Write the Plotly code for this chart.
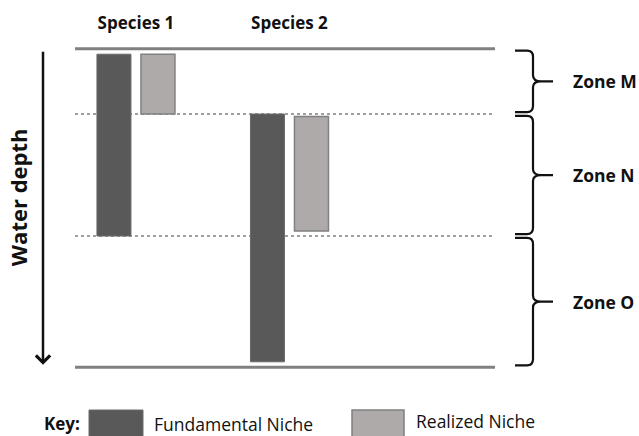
import plotly.graph_objects as go

# ---- data (depth units, 0 = surface, 10 = bottom) ----
species = ["Species 1", "Species 2"]
fundamental_top = [0.17, 2.05]
fundamental_bottom = [5.88, 9.83]
realized_top = [0.17, 2.13]
realized_bottom = [2.05, 5.72]
zone_names = ["Zone M", "Zone N", "Zone O"]
zone_bounds = [0.0, 2.05, 5.88, 10.0]

W, H = 639, 436
ML, MR, MT, MB = 75, 144, 44, 64
PW, PH = W - ML - MR, H - MT - MB


def px_x(p):
    return (p - ML) / PW


def px_y(p):
    return (H - MB - p) / PH


FONT = "Open Sans"
TXT = "#111111"
FUND = "#595959"
REAL = "#aeaaaa"

xs = list(range(len(species)))
fig = go.Figure()
fig.add_trace(go.Bar(
    x=xs, y=[b - t for t, b in zip(fundamental_top, fundamental_bottom)],
    base=fundamental_top, width=0.2215, offset=-0.254,
    marker=dict(color=FUND, line=dict(color="#6a6a6a", width=1)),
    name="Fundamental Niche", showlegend=False))
fig.add_trace(go.Bar(
    x=xs, y=[b - t for t, b in zip(realized_top, realized_bottom)],
    base=realized_top, width=0.2215, offset=0.0326,
    marker=dict(color=REAL, line=dict(color="#808080", width=1.5)),
    name="Realized Niche", showlegend=False))

shapes = []
# zone boundary lines
for i, d in enumerate(zone_bounds):
    solid = i in (0, len(zone_bounds) - 1)
    shapes.append(dict(type="line", xref="paper", yref="y",
                       x0=0, x1=1 if solid else px_x(493), y0=d, y1=d,
                       line=dict(color="#808080", width=3 if solid else 1.6,
                                 dash="solid" if solid else "dot"),
                       layer="below"))

# braces
xa, xb, xv, xc, xt = px_x(515), px_x(527), px_x(533), px_x(541), px_x(553)
r = 0.19
inset = 0.06
annotations = []
for i, name in enumerate(zone_names):
    y0 = zone_bounds[i] + inset
    y1 = zone_bounds[i + 1] - inset
    ym = (zone_bounds[i] + zone_bounds[i + 1]) / 2
    path = (f"M{xa},{y0} L{xb},{y0} Q{xv},{y0} {xv},{y0 + r} "
            f"L{xv},{ym - r} Q{xv},{ym} {xc},{ym} L{xt},{ym} "
            f"M{xc},{ym} Q{xv},{ym} {xv},{ym + r} "
            f"L{xv},{y1 - r} Q{xv},{y1} {xb},{y1} L{xa},{y1}")
    shapes.append(dict(type="path", xref="paper", yref="y", path=path,
                       line=dict(color="#111111", width=2.2)))
    annotations.append(dict(xref="paper", yref="y", x=px_x(571), y=ym,
                            text=f"<b>{name}</b>", showarrow=False,
                            xanchor="left", yanchor="middle",
                            font=dict(family=FONT, size=17.5, color=TXT)))

# water depth arrow
annotations.append(dict(xref="paper", yref="y", x=px_x(43), y=9.92,
                        axref="pixel", ayref="y", ax=0, ay=0.05,
                        showarrow=True, arrowhead=4, arrowsize=1.1,
                        arrowwidth=2.5, arrowcolor="#111111", text=""))
annotations.append(dict(xref="paper", yref="y", x=px_x(18), y=4.66,
                        text="<b>Water depth</b>", textangle=-90,
                        showarrow=False, xanchor="center", yanchor="middle",
                        font=dict(family=FONT, size=22, color=TXT)))

# key
shapes.append(dict(type="rect", xref="paper", yref="paper",
                   x0=px_x(89), x1=px_x(143), y0=px_y(445), y1=px_y(410),
                   fillcolor=FUND, line=dict(color="#6a6a6a", width=1)))
shapes.append(dict(type="rect", xref="paper", yref="paper",
                   x0=px_x(352), x1=px_x(404), y0=px_y(445), y1=px_y(410),
                   fillcolor=REAL, line=dict(color="#808080", width=1.5)))
annotations.append(dict(xref="paper", yref="paper", x=px_x(42), y=px_y(423.5),
                        text="<b>Key:</b>", showarrow=False, xanchor="left",
                        yanchor="middle",
                        font=dict(family=FONT, size=17, color=TXT)))
annotations.append(dict(xref="paper", yref="paper", x=px_x(152), y=px_y(423.5),
                        text="Fundamental Niche", showarrow=False,
                        xanchor="left", yanchor="middle",
                        font=dict(family=FONT, size=17.5, color=TXT)))
annotations.append(dict(xref="paper", yref="paper", x=px_x(414), y=px_y(421),
                        text="Realized Niche", showarrow=False,
                        xanchor="left", yanchor="middle",
                        font=dict(family=FONT, size=17.5, color=TXT)))

fig.update_layout(
    template="none",
    width=W, height=H,
    margin=dict(l=ML, r=MR, t=MT, b=MB, pad=0),
    paper_bgcolor="white", plot_bgcolor="white",
    shapes=shapes, annotations=annotations,
    showlegend=False,
    xaxis=dict(range=[-0.397, 2.339], side="top", tickmode="array",
               tickvals=xs, ticktext=[f"<b>{s}</b>" for s in species],
               ticks="outside", ticklen=7, tickcolor="rgba(0,0,0,0)",
               showgrid=False, zeroline=False, showline=False,
               automargin=False,
               tickfont=dict(family=FONT, size=17, color=TXT),
               fixedrange=True),
    yaxis=dict(range=[10.15, -0.15], showticklabels=False, ticks="",
               showgrid=False, zeroline=False, showline=False,
               automargin=False, fixedrange=True),
)

fig.write_html(
    "out.html",
    config={"displayModeBar": False},
    post_script="document.body.style.margin='0';"
                "document.body.style.overflow='hidden';",
)
